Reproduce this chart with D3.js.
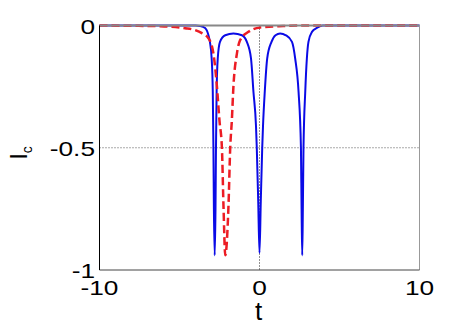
<!DOCTYPE html>
<html>
<head>
<meta charset="utf-8">
<script src="https://cdn.jsdelivr.net/npm/d3@7"></script>
<style>
  body { margin: 0; background: #fff; }
  text { font-family: "Liberation Sans", Arial, sans-serif; }
</style>
</head>
<body>
<div id="chart"></div>
<script>
//Values
var blueT = [-10, -4.0, -3.7, -3.4, -3.19, -3.10, -2.99, -2.92, -2.88, -2.85, -2.80, -2.75, -2.72, -2.68, -2.61, -2.47, -2.14, -1.63, -1.10, -0.79, -0.53, -0.38, -0.22, -0.17, -0.08, 0,
             0.08, 0.17, 0.22, 0.33, 0.48, 0.75, 1.0, 1.29, 1.65, 2.03, 2.23, 2.44, 2.59, 2.63, 2.67, 2.71, 2.75, 2.86, 2.96, 3.06, 3.28, 3.59, 3.95, 10]
var blueIc = [0, 0, -0.002, -0.01, -0.04, -0.067, -0.135, -0.27, -0.5, -0.75, -0.94, -0.75, -0.5, -0.27, -0.135, -0.067, -0.04, -0.033, -0.04, -0.067, -0.135, -0.27, -0.41, -0.5, -0.72, -0.93,
              -0.72, -0.5, -0.41, -0.27, -0.135, -0.067, -0.04, -0.033, -0.04, -0.067, -0.135, -0.27, -0.5, -0.75, -0.94, -0.75, -0.5, -0.27, -0.135, -0.067, -0.026, -0.01, 0, 0]

var redT = [-10, -8.2, -6.2, -4.64, -4.02, -3.6, -3.19, -2.88, -2.66, -2.5, -2.35, -2.25, -2.14, -1.94, -1.83, -1.73, -1.63, -1.41, -1.21, -0.69, 0.04, 1.48, 2.5, 10]
var redIc = [0, -0.001, -0.003, -0.011, -0.019, -0.031, -0.052, -0.114, -0.25, -0.39, -0.50, -0.74, -0.94, -0.74, -0.50, -0.39, -0.25, -0.114, -0.06, -0.026, -0.008, -0.002, 0, 0]

var xTicks = [-10, 0, 10]
var yTicks = [-1, -0.5, 0]
var xGrid = [0]
var yGrid = [-0.5]

var width = 463
var height = 327
var margin = {top: 25.5, left: 99.5, right: 43.5, bottom: 57}

var svg = d3.select("#chart")
  .append("svg")
  .attr("width", width)
  .attr("height", height)

var w = width - margin.left - margin.right
var h = height - margin.top - margin.bottom

var g = svg.append("g")
  .attr("transform", "translate(" + margin.left + "," + margin.top + ")")

var x = d3.scaleLinear().domain([-10, 10]).range([0, w])
var y = d3.scaleLinear().domain([-1, 0]).range([h, 0])

//Dotted grid lines
g.selectAll(".xgrid")
  .data(xGrid)
  .enter().append("line")
  .attr("x1", function(d){ return x(d) })
  .attr("x2", function(d){ return x(d) })
  .attr("y1", 0)
  .attr("y2", h)
  .attr("stroke", "#222")
  .attr("stroke-width", 1)
  .attr("stroke-dasharray", "1,2")

g.selectAll(".ygrid")
  .data(yGrid)
  .enter().append("line")
  .attr("x1", 0)
  .attr("x2", w)
  .attr("y1", function(d){ return y(d) })
  .attr("y2", function(d){ return y(d) })
  .attr("stroke", "#555")
  .attr("stroke-width", 1)
  .attr("stroke-dasharray", "1,2")

//Curves
var line = d3.line()
  .x(function(d){ return x(d[0]) })
  .y(function(d){ return y(d[1]) })
  .curve(d3.curveMonotoneX)

g.append("path")
  .datum(d3.zip(blueT, blueIc))
  .attr("d", line)
  .attr("fill", "none")
  .attr("stroke", "#0a0ae6")
  .attr("stroke-width", 2)

g.append("path")
  .datum(d3.zip(redT, redIc))
  .attr("d", line)
  .attr("fill", "none")
  .attr("stroke", "#ec1c24")
  .attr("stroke-width", 2.5)
  .attr("stroke-dasharray", "8,4")

//Box: top and right in grey, axes in black
g.append("line").attr("x1", 0).attr("x2", w).attr("y1", 0).attr("y2", 0)
  .attr("stroke", "#888").attr("stroke-width", 2)
g.append("line").attr("x1", w).attr("x2", w).attr("y1", 0).attr("y2", h)
  .attr("stroke", "#999").attr("stroke-width", 1)
g.append("line").attr("x1", 0).attr("x2", w).attr("y1", h).attr("y2", h)
  .attr("stroke", "#444").attr("stroke-width", 1)
g.append("line").attr("x1", 0).attr("x2", 0).attr("y1", 0).attr("y2", h)
  .attr("stroke", "#000").attr("stroke-width", 1)

//Tick labels (the picture's text is a bit stretched sideways)
g.selectAll(".xlab")
  .data(xTicks)
  .enter().append("text")
  .attr("transform", function(d){ return "translate(" + x(d) + "," + (h + 25) + ") scale(1.25,1)" })
  .attr("text-anchor", "middle")
  .attr("font-size", 21)
  .text(function(d){ return d })

g.selectAll(".ylab")
  .data(yTicks)
  .enter().append("text")
  .attr("transform", function(d){ return "translate(-4.5," + (y(d) + 8) + ") scale(1.25,1)" })
  .attr("text-anchor", "end")
  .attr("font-size", 21)
  .text(function(d){ return d })

//Axis titles
g.append("text")
  .attr("x", x(0) - 1)
  .attr("y", h + 50)
  .attr("text-anchor", "middle")
  .attr("font-size", 26)
  .text("t")

var ylab = svg.append("text")
  .attr("transform", "translate(27,153) rotate(-90)")
  .attr("text-anchor", "middle")
  .attr("font-size", 24)
ylab.append("tspan").text("I")
ylab.append("tspan").attr("font-size", 14).attr("dy", 5).text("c")
</script>
</body>
</html>
